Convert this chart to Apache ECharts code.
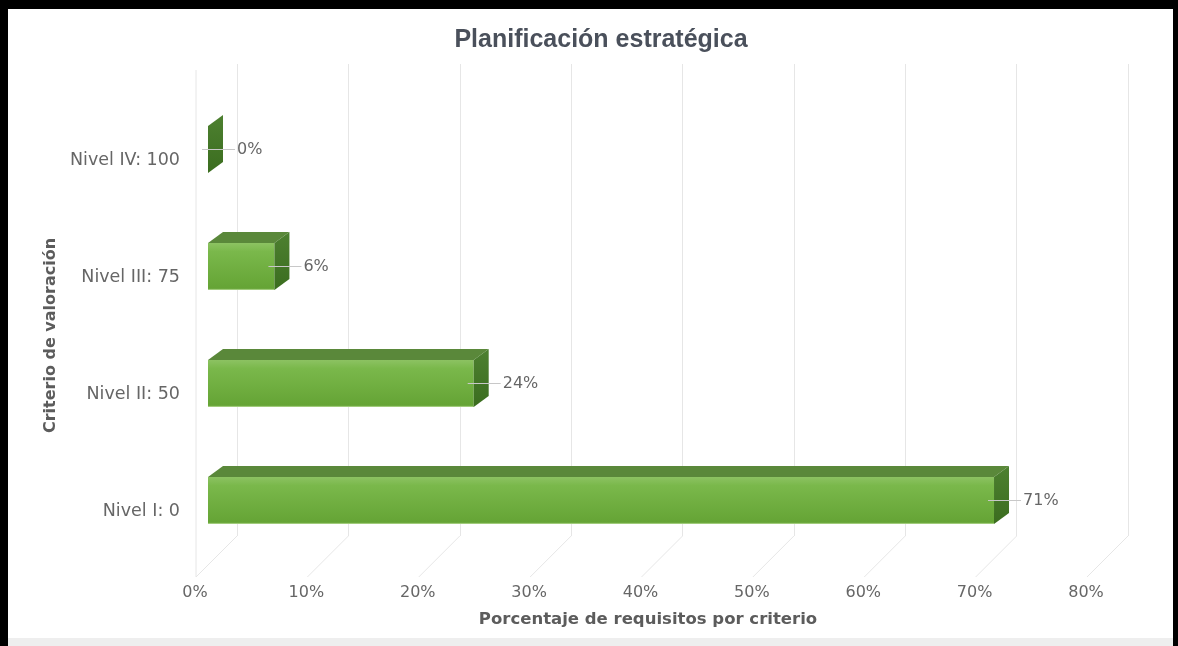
<!DOCTYPE html>
<html>
<head>
<meta charset="utf-8">
<script src="https://cdn.jsdelivr.net/npm/echarts@6/dist/echarts.min.js"></script>
<style>
html,body{margin:0;padding:0;background:#fff;}
#chart{position:absolute;left:0;top:0;width:1178px;height:646px;}
#frame{position:absolute;left:0;top:0;width:1178px;height:646px;box-sizing:border-box;border-top:9px solid #000;border-left:8px solid #000;border-right:5px solid #000;pointer-events:none;}
#strip{position:absolute;left:8px;right:5px;bottom:0;height:8px;background:#eeeeee;pointer-events:none;}
</style>
</head>
<body>
<div id="chart"></div>
<div id="frame"></div>
<div id="strip"></div>
<script>
// ---- data ----
const titleText = 'Planificación estratégica';
const categories = ['Nivel I: 0', 'Nivel II: 50', 'Nivel III: 75', 'Nivel IV: 100'];
const values = [71, 24, 6, 0];
const xTicks = [0, 10, 20, 30, 40, 50, 60, 70, 80];
const xAxisTitle = 'Porcentaje de requisitos por criterio';
const yAxisTitle = 'Criterio de valoración';

const FONT = '"DejaVu Sans", Verdana, sans-serif';
const TFONT = '"Liberation Sans", Arial, sans-serif';
const DX = 15, DY = -11;           // bar depth projection
const FLOOR_DX = -41, FLOOR_DY = 41; // floor depth projection

const chart = echarts.init(document.getElementById('chart'));

const barData = values.map((v, i) => [v, i]);

function renderBar(params, api) {
  const v = api.value(0), c = api.value(1);
  const p0 = api.coord([0, c]);
  const p1 = api.coord([v, c]);
  const band = api.size([0, 1])[1];
  const h = band * 0.4;
  const xl = p0[0] + 13;
  const xr = xl + (p1[0] - p0[0]) * 0.994;
  const cy = p0[1] - 10.5;
  const top = cy - h / 2, bot = cy + h / 2;
  const children = [];
  if (xr - xl > 0.5) {
    children.push({
      type: 'polygon',
      shape: {points: [[xl, top], [xr, top], [xr + DX, top + DY], [xl + DX, top + DY]]},
      style: {fill: '#5a883a'}
    });
    children.push({
      type: 'rect',
      shape: {x: xl, y: top, width: xr - xl, height: h},
      style: {fill: new echarts.graphic.LinearGradient(0, 0, 0, 1, [
        {offset: 0, color: '#8cc262'},
        {offset: 0.18, color: '#7ab84b'},
        {offset: 1, color: '#64a334'}
      ])}
    });
    children.push({
      type: 'line',
      shape: {x1: xl, y1: bot - 0.5, x2: xr, y2: bot - 0.5},
      style: {stroke: '#a8d184', lineWidth: 1}
    });
  }
  children.push({
    type: 'polygon',
    shape: {points: [[xr, top], [xr + DX, top + DY], [xr + DX, bot + DY], [xr, bot]]},
    style: {fill: new echarts.graphic.LinearGradient(0, 0, 0, 1, [
      {offset: 0, color: '#4d8030'},
      {offset: 1, color: '#3b6d1f'}
    ])}
  });
  children.push({
    type: 'line',
    shape: {x1: xr - 6, y1: cy, x2: xr + DX + 12, y2: cy},
    style: {stroke: '#c8c8c8', lineWidth: 1}
  });
  children.push({
    type: 'text',
    style: {x: xr + DX + 14, y: cy, text: v + '%', fill: '#666666', font: '16px ' + FONT, verticalAlign: 'middle', align: 'left'}
  });
  return {type: 'group', children: children};
}

function renderFloor(params, api) {
  const t = api.value(0);
  const p = api.coord([t, 0]);
  const children = [{
    type: 'line',
    shape: {x1: p[0], y1: p[1], x2: p[0] + FLOOR_DX, y2: p[1] + FLOOR_DY},
    style: {stroke: '#e6e6e6', lineWidth: 1}
  }];
  if (t === 0) {
    children.push({
      type: 'line',
      shape: {x1: p[0] + FLOOR_DX, y1: 70, x2: p[0] + FLOOR_DX, y2: p[1] + FLOOR_DY},
      style: {stroke: '#e6e6e6', lineWidth: 1}
    });
  }
  return {type: 'group', children: children};
}

chart.setOption({
  animation: false,
  backgroundColor: 'transparent',
  title: {
    text: titleText,
    left: 596,
    textAlign: 'center',
    top: 23,
    textStyle: {fontFamily: TFONT, fontSize: 25, fontWeight: 'bold', color: '#4a505b'}
  },
  grid: [
    {left: 195, right: 92, top: 101.5, bottom: 76.5},
    {left: 237, right: 50, top: 64, bottom: 110}
  ],
  xAxis: [
    {
      type: 'value', gridIndex: 0, min: 0, max: 80, interval: 10,
      axisLine: {show: false}, axisTick: {show: false}, splitLine: {show: false},
      axisLabel: {formatter: '{value}%', color: '#666666', fontSize: 16, fontFamily: FONT, margin: 15},
      name: xAxisTitle, nameLocation: 'middle', nameGap: 42,
      nameTextStyle: {fontFamily: FONT, fontSize: 16.5, fontWeight: 'bold', color: '#5c5c5c', padding: [0, 0, 0, 15]}
    },
    {
      type: 'value', gridIndex: 1, min: 0, max: 80, interval: 10,
      axisLine: {show: false}, axisTick: {show: false}, axisLabel: {show: false},
      splitLine: {show: true, lineStyle: {color: '#e6e6e6', width: 1}}
    }
  ],
  yAxis: [
    {
      type: 'category', gridIndex: 0, data: categories,
      axisLine: {show: false}, axisTick: {show: false}, splitLine: {show: false},
      axisLabel: {color: '#666666', fontSize: 17.5, fontFamily: FONT, margin: 15},
      name: yAxisTitle, nameLocation: 'middle', nameGap: 133, nameRotate: 90,
      nameTextStyle: {fontFamily: FONT, fontSize: 16, fontWeight: 'bold', color: '#5c5c5c'}
    },
    {
      type: 'value', gridIndex: 1, min: 0, max: 1, show: false
    }
  ],
  series: [
    {
      type: 'custom', xAxisIndex: 1, yAxisIndex: 1,
      data: xTicks.map(t => [t]),
      encode: {x: 0},
      renderItem: renderFloor,
      silent: true, z: 1
    },
    {
      type: 'custom', xAxisIndex: 0, yAxisIndex: 0,
      data: barData,
      encode: {x: 0, y: 1},
      renderItem: renderBar,
      z: 5
    }
  ]
});
</script>
</body>
</html>
